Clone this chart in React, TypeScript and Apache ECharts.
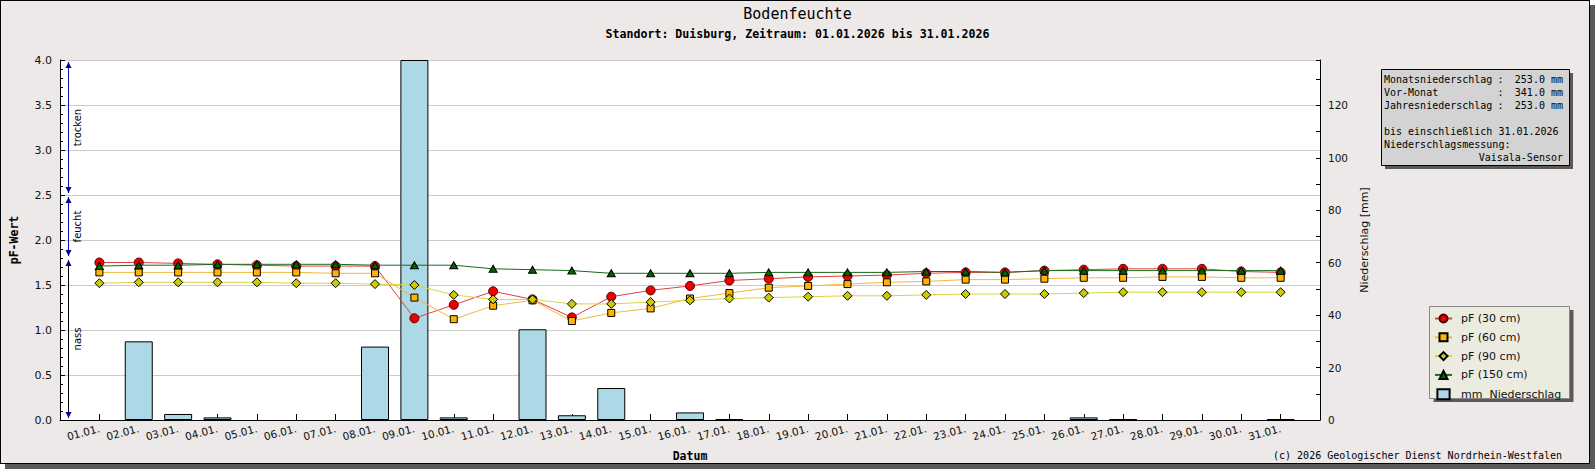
import React, { useEffect, useRef } from 'react';
import * as echarts from 'echarts';

const days = [
  '01.01.', '02.01.', '03.01.', '04.01.', '05.01.', '06.01.', '07.01.', '08.01.', '09.01.', '10.01.',
  '11.01.', '12.01.', '13.01.', '14.01.', '15.01.', '16.01.', '17.01.', '18.01.', '19.01.', '20.01.',
  '21.01.', '22.01.', '23.01.', '24.01.', '25.01.', '26.01.', '27.01.', '28.01.', '29.01.', '30.01.', '31.01.',
];

const pf30 = [1.75, 1.75, 1.74, 1.73, 1.72, 1.71, 1.71, 1.71, 1.13, 1.28, 1.43, 1.34, 1.14, 1.37, 1.44, 1.49,
  1.55, 1.57, 1.59, 1.6, 1.61, 1.63, 1.64, 1.64, 1.66, 1.67, 1.68, 1.68, 1.68, 1.65, 1.64];
const pf60 = [1.64, 1.64, 1.64, 1.64, 1.64, 1.64, 1.63, 1.63, 1.36, 1.12, 1.27, 1.33, 1.1, 1.19, 1.24, 1.35,
  1.41, 1.47, 1.49, 1.51, 1.53, 1.54, 1.56, 1.56, 1.57, 1.58, 1.58, 1.59, 1.59, 1.58, 1.58];
const pf90 = [1.52, 1.53, 1.53, 1.53, 1.53, 1.52, 1.52, 1.51, 1.5, 1.39, 1.34, 1.34, 1.29, 1.29, 1.31, 1.33,
  1.35, 1.36, 1.37, 1.38, 1.38, 1.39, 1.4, 1.4, 1.4, 1.41, 1.42, 1.42, 1.42, 1.42, 1.42];
const pf150 = [1.71, 1.72, 1.72, 1.73, 1.73, 1.73, 1.73, 1.72, 1.72, 1.72, 1.68, 1.67, 1.66, 1.63, 1.63, 1.63,
  1.63, 1.64, 1.64, 1.64, 1.64, 1.65, 1.65, 1.64, 1.66, 1.66, 1.66, 1.66, 1.66, 1.66, 1.66];
const precip = [0, 30.0, 2.3, 1.0, 0, 0, 0, 28.0, 137.3, 1.0, 0, 34.6, 1.8, 12.2, 0, 2.9,
  0.3, 0, 0, 0, 0, 0, 0, 0, 0, 1.0, 0.3, 0, 0, 0, 0.3];

const zones = [
  { label: 'trocken', from: 2.5, to: 4.0, line: '#1010b0' },
  { label: 'feucht', from: 1.8, to: 2.5, line: '#1010b0' },
  { label: 'nass', from: 0, to: 1.8, line: '#000000' },
];

const infoRows = [
  ['Monatsniederschlag', ':', '253.0 mm'],
  ['Vor-Monat', ':', '341.0 mm'],
  ['Jahresniederschlag', ':', '253.0 mm'],
];
const infoNotes = ['bis einschließlich 31.01.2026', 'Niederschlagsmessung:'];
const sensorText = 'Vaisala-Sensor';

const titleText = 'Bodenfeuchte';
const subtitleText = 'Standort: Duisburg, Zeitraum: 01.01.2026 bis 31.01.2026';
const copyrightText = '(c) 2026 Geologischer Dienst Nordrhein-Westfalen';

const seriesNames = ['pF (30 cm)', 'pF (60 cm)', 'pF (90 cm)', 'pF (150 cm)', 'mm  Niederschlag'];

const pad = (arr: number[]) => ['-', ...arr, '-'];
const padBars = (arr: number[]) => ['-', ...arr.map((v) => (v > 0 ? v : '-')), '-'];
const MONO = 'DejaVu Sans Mono';
const SANS = 'DejaVu Sans';

export default function App() {
  const ref = useRef<HTMLDivElement>(null);

  useEffect(() => {
    if (!ref.current) return;
    const chart = echarts.init(ref.current, undefined, { renderer: 'svg' });
    const cats = ['', ...days, ''];

    chart.setOption({
      animation: false,
      backgroundColor: 'transparent',
      title: [
        {
          text: titleText, left: 'center', top: 6, padding: 0,
          textStyle: { fontFamily: MONO, fontSize: 15, fontWeight: 'normal', color: '#000' },
        },
        {
          text: subtitleText, left: 'center', top: 28, padding: 0,
          textStyle: { fontFamily: MONO, fontSize: 11.6, fontWeight: 'bold', color: '#000' },
        },
      ],
      grid: {
        left: 60, top: 60, width: 1260, height: 360, show: true,
        backgroundColor: '#ffffff', borderWidth: 0, containLabel: false, outerBoundsMode: 'none',
      },
      legend: {
        orient: 'vertical', left: 1434, top: 313, itemWidth: 17, itemHeight: 10, itemGap: 7.8,
        padding: 0, z: 10,
        formatter: (name: string) => name.replace(/  /g, ' \u00a0'),
        textStyle: { fontFamily: SANS, fontSize: 11, color: '#111', padding: [0, 0, 0, 4] },
        data: [
          { name: seriesNames[0] },
          { name: seriesNames[1] },
          { name: seriesNames[2] },
          { name: seriesNames[3] },
          { name: seriesNames[4], icon: 'path://M0,0L11,0L11,9L0,9Z' },
        ],
      },
      xAxis: {
        type: 'category', data: cats, boundaryGap: false,
        axisLine: { show: true, lineStyle: { color: '#000', width: 1 } },
        axisTick: {
          show: true, inside: true, length: 6, lineStyle: { color: '#000' },
          interval: (_i: number, v: string) => v !== '',
        },
        axisLabel: { interval: 0, rotate: 15, margin: 8, fontFamily: SANS, fontSize: 10.5, color: '#111' },
        splitLine: { show: false },
        name: 'Datum', nameLocation: 'middle', nameGap: 30,
        nameTextStyle: { fontFamily: MONO, fontSize: 11.5, fontWeight: 'bold', color: '#000' },
      },
      yAxis: [
        {
          type: 'value', min: 0, max: 4, interval: 0.5, position: 'left',
          axisLine: { show: true, lineStyle: { color: '#000' } },
          axisTick: { show: true, inside: true, length: 5, lineStyle: { color: '#000' } },
          minorTick: { show: true, splitNumber: 5, length: 3, lineStyle: { color: '#000' } },
          axisLabel: { margin: 8, fontFamily: SANS, fontSize: 11, color: '#111', formatter: (v: number) => v.toFixed(1) },
          splitLine: { show: true, lineStyle: { color: '#cccccc', width: 1 } },
          name: 'pF-Wert', nameLocation: 'middle', nameGap: 40,
          nameTextStyle: { fontFamily: MONO, fontSize: 11.5, fontWeight: 'bold', color: '#000' },
        },
        {
          type: 'value', min: 0, max: Math.max(...precip), interval: 10, position: 'right',
          axisLine: { show: true, lineStyle: { color: '#000' } },
          axisTick: { show: true, inside: true, length: 4, lineStyle: { color: '#000' } },
          axisLabel: {
            margin: 8, fontFamily: SANS, fontSize: 10.5, color: '#111',
            formatter: (v: number) => (Math.abs(v % 20) < 1e-6 ? String(v) : ''),
          },
          splitLine: { show: false },
          name: 'Niederschlag [mm]', nameLocation: 'middle', nameGap: 31,
          nameTextStyle: { fontFamily: SANS, fontSize: 11, color: '#111' },
        },
      ],
      series: [
        {
          name: seriesNames[4], type: 'bar', yAxisIndex: 1, data: padBars(precip), barWidth: 28, z: 1,
          itemStyle: { color: '#add8e6', borderColor: '#000', borderWidth: 1 },
        },
        {
          name: seriesNames[0], type: 'line', yAxisIndex: 0, data: pad(pf30), symbol: 'circle', symbolSize: 9, z: 3,
          lineStyle: { color: '#e04040', width: 1 },
          itemStyle: { color: '#ee0000', borderColor: '#500000', borderWidth: 1 },
        },
        {
          name: seriesNames[1], type: 'line', yAxisIndex: 0, data: pad(pf60), symbol: 'rect', symbolSize: 7, z: 4,
          lineStyle: { color: '#f4b83a', width: 1 },
          itemStyle: { color: '#ffb400', borderColor: '#000', borderWidth: 1 },
        },
        {
          name: seriesNames[2], type: 'line', yAxisIndex: 0, data: pad(pf90), symbol: 'diamond', symbolSize: 9, z: 5,
          lineStyle: { color: '#d6d640', width: 1 },
          itemStyle: { color: '#cccc00', borderColor: '#000', borderWidth: 1 },
        },
        {
          name: seriesNames[3], type: 'line', yAxisIndex: 0, data: pad(pf150), symbol: 'triangle', symbolSize: [8, 7], z: 6,
          lineStyle: { color: '#1a6a1a', width: 1 },
          itemStyle: { color: '#006400', borderColor: '#000', borderWidth: 1 },
        },
      ],
    });

    const yPx = (v: number) => chart.convertToPixel({ yAxisIndex: 0 }, v) as number;
    const ax = 68.5;
    const els: any[] = [];
    zones.forEach((zn) => {
      const yt = yPx(zn.to);
      const yb = yPx(zn.from);
      els.push({ type: 'line', z: 5, shape: { x1: ax, y1: yt + 2, x2: ax, y2: yb - 2 }, style: { stroke: zn.line, lineWidth: 1 } });
      els.push({ type: 'polygon', z: 5, shape: { points: [[ax, yt + 2], [ax - 3, yt + 8], [ax + 3, yt + 8]] }, style: { fill: '#00008b' } });
      els.push({ type: 'polygon', z: 5, shape: { points: [[ax, yb - 2], [ax - 3, yb - 8], [ax + 3, yb - 8]] }, style: { fill: '#00008b' } });
      els.push({
        type: 'text', z: 5, x: 77, y: (yt + yb) / 2, rotation: Math.PI / 2,
        style: { text: zn.label, align: 'center', verticalAlign: 'middle', fontFamily: SANS, fontSize: 10, fill: '#000' },
      });
    });

    // info box
    els.push({ type: 'rect', z: 1, shape: { x: 1385, y: 73, width: 188, height: 96 }, style: { fill: '#5a5a5a' } });
    els.push({ type: 'rect', z: 2, shape: { x: 1381.5, y: 69.5, width: 188, height: 96 }, style: { fill: '#d3d3d3', stroke: '#000', lineWidth: 1 } });
    const rowY = (i: number) => 79.3 + i * 13;
    infoRows.forEach((r, i) => {
      els.push({ type: 'text', z: 3, x: 1384, y: rowY(i), style: { text: r[0], align: 'left', verticalAlign: 'middle', fontFamily: MONO, fontSize: 10, fill: '#000' } });
      els.push({ type: 'text', z: 3, x: 1497.5, y: rowY(i), style: { text: r[1], align: 'left', verticalAlign: 'middle', fontFamily: MONO, fontSize: 10, fill: '#000' } });
      els.push({ type: 'text', z: 3, x: 1563, y: rowY(i), style: { text: r[2], align: 'right', verticalAlign: 'middle', fontFamily: MONO, fontSize: 10, fill: '#000' } });
    });
    infoNotes.forEach((t, i) => {
      els.push({ type: 'text', z: 3, x: 1384, y: rowY(4 + i), style: { text: t, align: 'left', verticalAlign: 'middle', fontFamily: MONO, fontSize: 10, fill: '#000' } });
    });
    els.push({ type: 'text', z: 3, x: 1563, y: rowY(6), style: { text: sensorText, align: 'right', verticalAlign: 'middle', fontFamily: MONO, fontSize: 10, fill: '#000' } });

    // legend box
    els.push({ type: 'rect', z: 1, shape: { x: 1433.5, y: 310, width: 140, height: 92 }, style: { fill: '#5a5a5a' } });
    els.push({ type: 'rect', z: 2, shape: { x: 1429.5, y: 306.5, width: 140, height: 92 }, style: { fill: '#ecebe0', stroke: '#888', lineWidth: 1 } });

    // copyright
    els.push({ type: 'text', z: 3, x: 1562, y: 455, style: { text: copyrightText, align: 'right', verticalAlign: 'middle', fontFamily: MONO, fontSize: 10, fill: '#000' } });

    chart.setOption({ graphic: { elements: els } });

    return () => chart.dispose();
  }, []);

  return (
    <div style={{ position: 'absolute', left: 0, top: 0, width: 1595, height: 470 }}>
      <div
        style={{
          position: 'absolute', left: 0, top: 0, width: 1588, height: 462,
          border: '1px solid #000', background: '#ece9e8', boxShadow: '5px 5px 0 #5a5a5a',
        }}
      />
      <div ref={ref} style={{ position: 'absolute', left: 0, top: 0, width: 1595, height: 470 }} />
    </div>
  );
}
